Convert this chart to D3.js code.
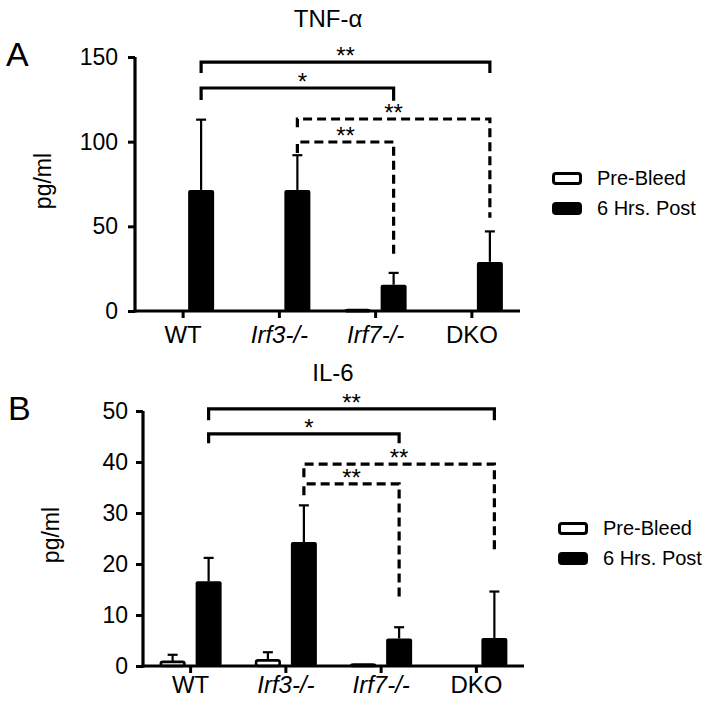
<!DOCTYPE html>
<html><head><meta charset="utf-8">
<script src="https://cdn.jsdelivr.net/npm/d3@7"></script>
<style>
body{margin:0;background:#fff;}
text{font-family:"Liberation Sans",Arial,sans-serif;fill:#000;}
</style></head>
<body><svg id="c" width="714" height="707"></svg>
<script>
// ---------- data ----------
const categories = ["WT","Irf3-/-","Irf7-/-","DKO"];
const italicCats = [false,true,true,false];
const seriesNames = ["Pre-Bleed","6 Hrs. Post"];

const tnfPre     = [0, 0, 0.5, 0];
const tnfPreErr  = [0, 0, 0, 0];
const tnfPost    = [71.5, 71.5, 15.5, 29];
const tnfPostErr = [41.5, 20.5, 7, 18];
const tnfTicks   = [0, 50, 100, 150];

const il6Pre     = [0.8, 1.1, 0.3, 0];
const il6PreErr  = [1.4, 1.6, 0, 0];
const il6Post    = [16.6, 24.3, 5.4, 5.5];
const il6PostErr = [4.6, 7.2, 2.2, 9.1];
const il6Ticks   = [0, 10, 20, 30, 40, 50];

// brackets: from/to category index, level, left/right drop ends (data units), label, dashed
const tnfBrackets = [
  {from:0,to:3,level:147,   left:140.5,right:140.5,label:"**",dashed:false},
  {from:0,to:2,level:131.7, left:124.6,right:124.2,label:"*", dashed:false},
  {from:1,to:3,level:113.4, left:108.5,right:55,   label:"**",dashed:true},
  {from:1,to:2,level:99.8,  left:93.3, right:33,   label:"**",dashed:true}
];
const il6Brackets = [
  {from:0,to:3,level:50.4, left:48.2,right:48.2,label:"**",dashed:false},
  {from:0,to:2,level:45.5, left:43.7,right:43.7,label:"*", dashed:false},
  {from:1,to:3,level:39.6, left:37,  right:22.4,label:"**",dashed:true},
  {from:1,to:2,level:35.7, left:33.5,right:12.9,label:"**",dashed:true}
];

// ---------- drawing ----------
const svg = d3.select("#c");
const FONT = "Liberation Sans, Arial, sans-serif";

function panel(cfg){
  const g = svg.append("g");
  const x = d3.scaleBand().domain(categories).range([cfg.x0, cfg.x1]);
  const y = d3.scaleLinear().domain([0, cfg.ymax]).range([cfg.yb, cfg.yt]);
  const bw = 26, gap = 10;
  const cx = (i, s) => x(categories[i]) + x.bandwidth()/2 + (s===0 ? -(gap/2+bw/2) : (gap/2+bw/2));

  // bars
  const series = [
    {vals:cfg.pre, errs:cfg.preErr, s:0},
    {vals:cfg.post, errs:cfg.postErr, s:1}
  ];
  series.forEach(se=>{
    se.vals.forEach((v,i)=>{
      if (v<=0) return;
      const top = y(v), h = y(0)-top;
      if (se.errs[i]>0){
        const ey = y(v+se.errs[i]);
        g.append("line").attr("x1",cx(i,se.s)).attr("x2",cx(i,se.s))
          .attr("y1",top).attr("y2",ey).attr("stroke","#000").attr("stroke-width",2.2);
        g.append("line").attr("x1",cx(i,se.s)-5).attr("x2",cx(i,se.s)+5)
          .attr("y1",ey).attr("y2",ey).attr("stroke","#000").attr("stroke-width",2.2);
      }
      if (se.s===1){
        g.append("rect").attr("x",cx(i,1)-bw/2).attr("y",top).attr("width",bw).attr("height",h)
          .attr("rx",2).attr("fill","#000");
      } else {
        g.append("rect").attr("x",cx(i,0)-bw/2+1.2).attr("y",top).attr("width",bw-2.4).attr("height",Math.max(h,1))
          .attr("rx",2).attr("fill","#fff").attr("stroke","#000").attr("stroke-width",2.6);
      }
    });
  });

  // axes
  const ya = d3.axisLeft(y).tickValues(cfg.ticks).tickSize(7).tickSizeOuter(0).tickPadding(cfg.yPad);
  const yg = g.append("g").attr("transform",`translate(${cfg.x0},0)`).call(ya);
  yg.select(".domain").attr("stroke-width",3.2).attr("d",`M0,${cfg.yb+1.5}V${cfg.yt}`);
  yg.selectAll(".tick line").attr("stroke-width",3);
  yg.selectAll(".tick text").attr("font-size",23).style("font-family",FONT);

  const xa = d3.axisBottom(x).tickSize(7).tickSizeOuter(0);
  const xg = g.append("g").attr("transform",`translate(0,${cfg.yb})`).call(xa);
  xg.select(".domain").attr("stroke-width",3.2).attr("d",`M${cfg.x0-1.5},0H${cfg.x1}`);
  xg.selectAll(".tick line").attr("stroke-width",3);
  xg.selectAll(".tick text").attr("font-size",24).attr("y",cfg.xLabOff).attr("dy",0)
    .style("font-style",(d,i)=>italicCats[i]?"italic":"normal")
    .style("font-family",FONT);

  // brackets
  cfg.brackets.forEach(b=>{
    const xl = cx(b.from,1), xr = cx(b.to,1);
    const p = d3.path();
    p.moveTo(xl, y(b.left)); p.lineTo(xl, y(b.level)); p.lineTo(xr, y(b.level)); p.lineTo(xr, y(b.right));
    g.append("path").attr("d",p.toString()).attr("fill","none").attr("stroke","#000")
      .attr("stroke-width",3.2).attr("stroke-dasharray",b.dashed?"9,5":null);
    g.append("text").attr("x",(xl+xr)/2 + (b.label==="*"?5:0)).attr("y",y(b.level)+2)
      .attr("text-anchor","middle").attr("font-size",24).text(b.label);
  });

  // titles
  g.append("text").attr("x",cfg.titleX).attr("y",cfg.titleY).attr("text-anchor","middle")
    .attr("font-size",24).text(cfg.title);
  g.append("text").attr("x",cfg.letterX).attr("y",cfg.letterY).attr("font-size",34).text(cfg.letter);
  g.append("text").attr("transform",`translate(${cfg.ylabX},${cfg.ylabY}) rotate(-90)`)
    .attr("text-anchor","middle").attr("font-size",23).text("pg/ml");

  // legend
  const lg = g.append("g").attr("transform",`translate(${cfg.legX},${cfg.legY})`);
  seriesNames.forEach((n,i)=>{
    lg.append("rect").attr("x",1.5).attr("y",i*30+1.5).attr("width",27).attr("height",10).attr("rx",2.5)
      .attr("fill",i===0?"#fff":"#000").attr("stroke","#000").attr("stroke-width",3);
    lg.append("text").attr("x",45).attr("y",i*30+13).attr("font-size",20).text(n);
  });
}

panel({x0:135,x1:520,yb:311,yt:57,ymax:150,ticks:tnfTicks,yPad:10,xLabOff:32,
  pre:tnfPre,preErr:tnfPreErr,post:tnfPost,postErr:tnfPostErr,brackets:tnfBrackets,
  title:"TNF-α",titleX:328,titleY:27,letter:"A",letterX:6,letterY:66,ylabX:51,ylabY:181,
  legX:552,legY:172});
panel({x0:143,x1:524,yb:666,yt:411,ymax:50,ticks:il6Ticks,yPad:8,xLabOff:27,
  pre:il6Pre,preErr:il6PreErr,post:il6Post,postErr:il6PostErr,brackets:il6Brackets,
  title:"IL-6",titleX:333,titleY:381,letter:"B",letterX:8,letterY:420,ylabX:59,ylabY:535,
  legX:558,legY:522});
</script></body></html>
